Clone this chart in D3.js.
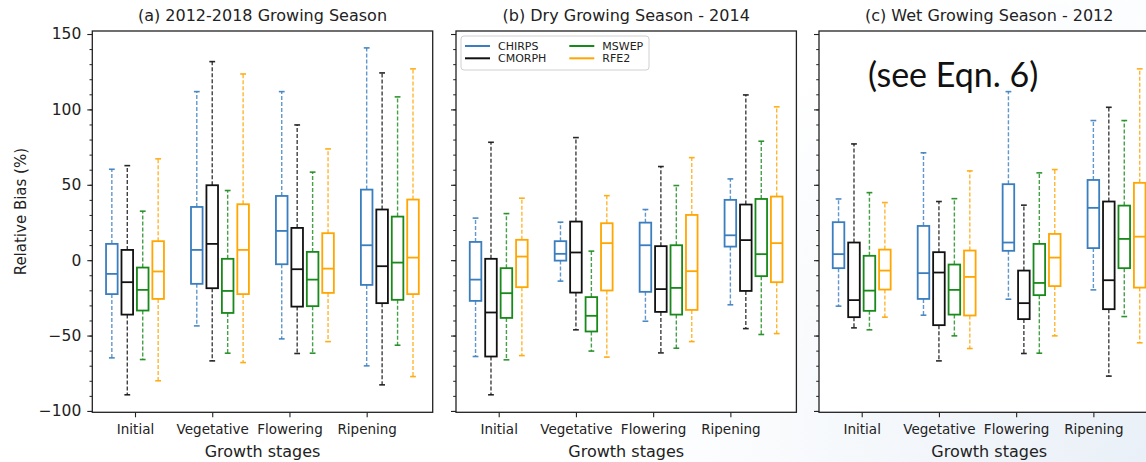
<!DOCTYPE html>
<html>
<head>
<meta charset="utf-8">
<script src="https://cdn.jsdelivr.net/npm/d3@7"></script>
<style>
  html, body { margin: 0; padding: 0; background: #fff; }
  svg { display: block; }
</style>
</head>
<body>
<svg id="chart" width="1146" height="462"></svg>
<script>
// growth stages and products
const stages = ['Initial', 'Vegetative', 'Flowering', 'Ripening'];
const products = ['CHIRPS', 'CMORPH', 'MSWEP', 'RFE2'];
const yMajor = [-100, -50, 0, 50, 100, 150];
const titles = ['(a) 2012-2018 Growing Season', '(b) Dry Growing Season - 2014', '(c) Wet Growing Season - 2012'];

// each entry: [lower whisker, q1, median, q3, upper whisker] per stage
// (a) 2012-2018
const allChirps = [[-64.8, -22.5, -9.1, 10.8, 60.3], [-43.6, -15.7, 6.8, 35.3, 111.8], [-52.2, -2.7, 19.4, 42.6, 111.8], [-70.1, -16.4, 9.9, 46.8, 140.8]];
const allCmorph = [[-89.3, -36.1, -14.6, 6.8, 62.7], [-66.8, -18.6, 10.8, 49.7, 131.7], [-61.9, -30.8, -6.0, 21.4, 89.7], [-82.7, -28.5, -4.0, 33.6, 124.2]];
const allMswep = [[-65.9, -33.4, -19.7, -4.9, 32.5], [-61.7, -35.0, -20.4, 0.9, 46.2], [-61.7, -30.5, -12.9, 5.5, 58.4], [-56.4, -26.3, -1.6, 28.9, 108.3]];
const allRfe2 = [[-80.0, -25.7, -7.5, 12.6, 67.2], [-67.9, -22.5, 6.8, 37.1, 123.5], [-54.0, -21.7, -5.6, 17.9, 73.8], [-77.2, -22.5, 1.7, 40.2, 126.9]];
// (b) dry 2014
const dryChirps = [[-63.9, -27.0, -12.9, 12.1, 27.9], [-13.9, -0.3, 4.2, 12.6, 25.2], [-40.5, -21.0, 9.9, 24.9, 33.6], [-29.6, 9.0, 16.5, 40.0, 53.9]];
const dryCmorph = [[-89.3, -63.9, -34.7, 0.9, 78.2], [-46.2, -21.5, 5.1, 25.6, 81.3], [-61.5, -34.3, -19.2, 9.3, 62.1], [-45.4, -20.4, 13.3, 36.9, 109.6]];
const dryMswep = [[-66.1, -38.3, -21.9, -5.3, 30.9], [-60.3, -47.3, -36.9, -24.5, 6.0], [-58.4, -36.1, -18.4, 9.9, 49.5], [-49.3, -10.6, 4.0, 40.6, 78.9]];
const dryRfe2 = [[-63.3, -17.9, 2.4, 13.5, 41.1], [-64.3, -20.1, 11.3, 24.5, 42.8], [-54.0, -33.0, -7.3, 30.0, 68.0], [-48.7, -14.6, 11.3, 42.2, 101.7]];
// (c) wet 2012
const wetChirps = [[-30.5, -5.3, 4.0, 25.2, 40.6], [-36.5, -25.7, -8.6, 22.7, 71.2], [-25.9, 6.2, 11.7, 50.4, 111.8], [-19.7, 8.0, 34.7, 53.2, 92.6]];
const wetCmorph = [[-44.9, -37.8, -26.5, 11.7, 77.1], [-66.8, -43.1, -8.2, 5.3, 38.9], [-61.9, -39.1, -28.5, -6.9, 36.5], [-76.9, -32.5, -13.3, 38.9, 101.4]];
const wetMswep = [[-46.2, -33.6, -20.2, 2.9, 44.8], [-50.2, -36.1, -19.7, -2.9, 40.8], [-61.7, -23.2, -15.1, 10.8, 57.9], [-37.4, -5.3, 14.1, 36.2, 92.6]];
const wetRfe2 = [[-37.8, -19.5, -6.9, 7.0, 38.2], [-58.6, -36.7, -11.1, 6.4, 59.2], [-50.2, -17.2, 1.7, 17.4, 60.1], [-54.8, -18.2, 15.6, 51.3, 126.9]];

const panels = [
  [allChirps, allCmorph, allMswep, allRfe2],
  [dryChirps, dryCmorph, dryMswep, dryRfe2],
  [wetChirps, wetCmorph, wetMswep, wetRfe2],
];

const colors = ['#3a7ebf', '#111111', '#18891a', '#ffa600'];
const font = 'DejaVu Sans, sans-serif';

const svg = d3.select('#chart');

// slide background, faint tint toward the bottom right
const defs = svg.append('defs');
const grad = defs.append('radialGradient').attr('id', 'bg')
  .attr('gradientUnits', 'userSpaceOnUse')
  .attr('cx', 1146).attr('cy', 462).attr('r', 520);
grad.append('stop').attr('offset', 0).attr('stop-color', '#e9f0f7');
grad.append('stop').attr('offset', 1).attr('stop-color', '#ffffff');
svg.append('rect').attr('width', 1146).attr('height', 462).attr('fill', 'url(#bg)');

const plotTop = 31, plotBottom = 412.3, panelW = 340.4;
const lefts = [92.3, 456, 819];

const y = d3.scaleLinear().domain([-100.9, 152]).range([plotBottom, plotTop]);

panels.forEach((series, p) => {
  const left = lefts[p];
  const x = d3.scaleLinear().domain([0.447, 4.855]).range([left, left + panelW]);
  const g = svg.append('g');

  g.append('rect')
    .attr('x', left).attr('y', plotTop)
    .attr('width', panelW).attr('height', plotBottom - plotTop)
    .attr('fill', '#fff');

  // minor + major y ticks
  g.append('g')
    .attr('transform', `translate(${left},0)`)
    .call(d3.axisLeft(y).tickValues(d3.range(-100, 151, 10)).tickSize(2.8).tickFormat(''))
    .call(a => a.select('.domain').remove())
    .call(a => a.selectAll('line').attr('stroke', '#222'));

  const yAxis = g.append('g')
    .attr('transform', `translate(${left},0)`)
    .call(d3.axisLeft(y).tickValues(yMajor).tickSize(5).tickPadding(6)
      .tickFormat(p === 0 ? d3.format('d') : ''))
    .call(a => a.select('.domain').remove())
    .call(a => a.selectAll('line').attr('stroke', '#222').attr('stroke-width', 1.1));
  yAxis.selectAll('text').attr('font-family', font).attr('font-size', 15.5).attr('fill', '#222');

  const xAxis = g.append('g')
    .attr('transform', `translate(0,${plotBottom})`)
    .call(d3.axisBottom(x).tickValues([1, 2, 3, 4]).tickSize(5).tickPadding(7)
      .tickFormat((d, i) => stages[i]))
    .call(a => a.select('.domain').remove())
    .call(a => a.selectAll('line').attr('stroke', '#222').attr('stroke-width', 1.1));
  xAxis.selectAll('text').attr('font-family', font).attr('font-size', 13.5).attr('fill', '#222');

  // boxes: group k sits at 0.7 + 1.1*k, products 0.2 apart
  const boxW = 0.15;
  series.forEach((stats, s) => {
    const col = colors[s];
    stats.forEach((d, k) => {
      const pos = 0.7 + 1.1 * k + 0.2 * s;
      const [lo, q1, med, q3, hi] = d;
      const xc = x(pos), hw = (x(pos + boxW / 2) - x(pos - boxW / 2)) / 2;
      const cw = hw / 2;
      const b = g.append('g');
      // whiskers
      [[q1, lo], [q3, hi]].forEach(([a, z]) => {
        b.append('line')
          .attr('x1', xc).attr('x2', xc).attr('y1', y(a)).attr('y2', y(z))
          .attr('stroke', col).attr('stroke-width', 1.4)
          .attr('stroke-dasharray', '4,2').attr('opacity', 0.8);
        b.append('line')
          .attr('x1', xc - cw).attr('x2', xc + cw).attr('y1', y(z)).attr('y2', y(z))
          .attr('stroke', col).attr('stroke-width', 1.6).attr('opacity', 0.9);
      });
      b.append('rect')
        .attr('x', xc - hw).attr('y', y(q3))
        .attr('width', 2 * hw).attr('height', y(q1) - y(q3))
        .attr('fill', 'none').attr('stroke', col).attr('stroke-width', 1.8);
      b.append('line')
        .attr('x1', xc - hw).attr('x2', xc + hw).attr('y1', y(med)).attr('y2', y(med))
        .attr('stroke', col).attr('stroke-width', 1.8);
    });
  });

  // frame
  g.append('rect')
    .attr('x', left).attr('y', plotTop)
    .attr('width', panelW).attr('height', plotBottom - plotTop)
    .attr('fill', 'none').attr('stroke', '#222').attr('stroke-width', 1.3);

  g.append('text')
    .attr('x', left + panelW / 2).attr('y', 21)
    .attr('text-anchor', 'middle')
    .attr('font-family', font).attr('font-size', 16).attr('fill', '#222')
    .text(titles[p]);

  g.append('text')
    .attr('x', left + panelW / 2).attr('y', 457)
    .attr('text-anchor', 'middle')
    .attr('font-family', font).attr('font-size', 16).attr('fill', '#222')
    .text('Growth stages');
});

svg.append('text')
  .attr('transform', `translate(26,${(plotTop + plotBottom) / 2 - 10}) rotate(-90)`)
  .attr('text-anchor', 'middle')
  .attr('font-family', font).attr('font-size', 15).attr('fill', '#222')
  .text('Relative Bias (%)');

// legend in panel (b)
const leg = svg.append('g');
leg.append('rect')
  .attr('x', 461).attr('y', 36).attr('width', 188).attr('height', 34).attr('rx', 3)
  .attr('fill', '#fff').attr('fill-opacity', 0.85)
  .attr('stroke', '#d0d0d0').attr('stroke-width', 1);
products.forEach((name, i) => {
  const col = Math.floor(i / 2), row = i % 2;
  const lx = 465 + col * 104.3, ly = 46 + row * 12.3;
  leg.append('line')
    .attr('x1', lx).attr('x2', lx + 25).attr('y1', ly).attr('y2', ly)
    .attr('stroke', colors[i]).attr('stroke-width', 2);
  leg.append('text')
    .attr('x', lx + 33).attr('y', ly + 4)
    .attr('font-family', font).attr('font-size', 11).attr('fill', '#222')
    .text(name);
});

svg.append('text')
  .attr('x', 868).attr('y', 87)
  .attr('font-family', 'Lato, sans-serif').attr('font-size', 34).attr('fill', '#111')
  .text('(see Eqn. 6)');
</script>
</body>
</html>
